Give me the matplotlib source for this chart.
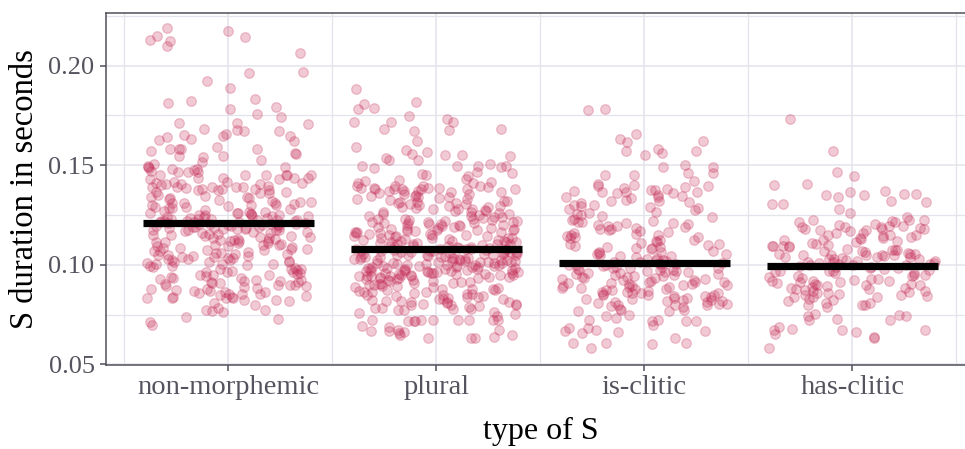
import numpy as np
import matplotlib.pyplot as plt
from matplotlib.ticker import MultipleLocator

# ==========================
# Data: S durations per type (milliseconds)
# ==========================
categories = ["non-morphemic", "plural", "is-clitic", "has-clitic"]

non_morphemic_ms = [
    218.7, 217.3, 214.5, 212.7, 212.5, 206.3, 214.7, 209.8, 196.8, 196.0, 192.0, 188.7,
    183.2, 182.2, 181.0, 179.0, 175.8, 178.2, 174.3, 171.3, 170.7, 171.2, 167.7, 165.7,
    168.2, 167.3, 165.3, 167.0, 164.5, 164.0, 164.8, 163.0, 162.5, 162.0, 159.2, 158.0,
    158.0, 158.2, 156.0, 158.0, 157.0, 154.8, 154.0, 154.8, 155.7, 152.7, 151.8,
    149.5, 148.2, 145.3, 138.2, 140.7, 150.7, 147.3, 144.8, 139.0, 148.2, 146.8, 144.8,
    141.5, 148.5, 149.0, 143.7, 140.7, 139.5, 146.8, 141.2, 144.8, 143.7, 142.8, 142.8,
    139.0, 140.2, 149.0, 147.8, 144.8, 141.5, 144.8, 140.7, 143.7, 146.8, 143.7, 141.2,
    138.2, 137.3,
    137.5, 135.8, 139.2, 136.7, 139.2, 138.3, 136.7, 137.5, 139.0, 137.8, 136.2, 130.8,
    131.7, 133.3, 133.7, 133.0, 132.5, 130.0, 130.4, 132.1, 133.9, 134.6, 130.8, 131.4,
    128.3, 129.2, 127.5, 128.8, 127.9, 130.0, 128.3, 129.6, 135.1, 134.2, 131.1, 129.9,
    126.9, 126.1, 125.7, 125.2, 124.6, 124.1, 123.8, 123.1, 122.9, 122.4, 122.2, 121.6,
    121.3, 120.9, 120.4, 120.1, 119.6, 119.2, 118.9, 118.3, 118.0, 117.6, 117.2, 126.4,
    125.0, 124.3, 123.5, 122.7, 121.9, 121.0, 120.6, 119.8, 119.0, 118.6, 117.9, 117.1,
    126.7, 124.9, 123.3, 121.4, 120.2, 118.4, 125.9, 122.6, 119.4, 117.4, 124.5, 121.8,
    120.7, 118.1, 126.2, 123.0, 119.9, 117.7, 125.4, 122.1, 120.5, 118.8,
    116.6, 116.1, 115.8, 115.3, 114.9, 114.4, 114.0, 113.6, 113.1, 112.8, 112.3, 111.9,
    111.4, 111.0, 110.6, 110.1, 109.7, 109.2, 108.8, 108.3, 107.9, 107.4, 107.1, 106.6,
    106.1, 105.8, 105.3, 104.9, 104.4, 104.0, 103.6, 103.2, 102.7, 102.3, 101.8, 101.4,
    101.0, 100.5, 100.2, 116.3, 115.0, 113.8, 112.5, 111.2, 109.9, 108.5, 107.2, 105.6,
    104.6, 103.0, 101.6, 100.3, 115.6, 113.3, 110.8, 108.1, 105.1, 102.5, 114.6, 111.7,
    109.4, 106.9, 103.9, 101.2, 112.0,
    99.7, 99.2, 98.8, 98.1, 97.7, 97.3, 96.6, 96.2, 95.8, 95.1, 94.7, 94.2, 93.9, 93.3,
    92.8, 92.4, 91.9, 91.5, 90.9, 90.5, 90.0, 89.6, 89.1, 88.7, 88.2, 87.8, 87.3, 86.9,
    86.4, 86.0, 85.5, 85.1, 84.6, 84.2, 83.7, 83.3, 99.4, 97.9, 96.4, 94.9, 93.5, 92.1,
    90.7, 89.3, 87.9, 86.6, 85.3, 84.0, 98.5, 95.5, 92.6, 89.8, 86.2, 97.0, 91.2,
    77.0, 70.0, 72.8, 73.8, 71.3, 76.2, 77.3, 78.3, 77.5, 79.7, 83.3, 83.3, 82.5, 83.3,
    81.7, 80.8, 82.5,
]

plural_ms = [
    188.2, 178.2, 171.5, 171.5, 180.7, 178.7, 181.8, 174.5, 173.2, 168.2, 167.0, 168.3,
    167.7, 171.8, 162.3, 157.7, 152.7, 149.8, 155.3, 149.5, 149.8, 146.0, 155.7, 155.3,
    156.5, 152.8, 149.0, 146.8, 154.8, 150.5, 149.8, 148.5, 159.0, 153.7, 145.7, 144.3,
    145.3, 138.7, 139.3, 141.8, 142.8, 138.5, 139.3, 141.2, 137.8, 138.2, 138.2, 141.5,
    142.3, 141.2, 138.2,
    139.6, 139.1, 138.4, 137.9, 137.2, 136.8, 136.3, 135.6, 135.1, 134.4, 133.9, 133.2,
    132.7, 131.9, 131.6, 130.8, 130.3, 129.6, 129.2, 128.4, 128.0, 127.5, 126.8, 126.3,
    125.6, 125.2, 124.4, 124.0, 123.6, 139.3, 138.1, 136.6, 135.3, 134.1, 132.9, 131.4,
    130.6, 129.4, 128.2, 126.6, 125.4, 124.2, 137.0, 134.6, 132.1, 129.8, 127.0, 124.6,
    138.6, 133.7, 128.9, 125.8, 136.0, 131.0, 127.8,
    123.1, 122.6, 122.0, 121.5, 121.0, 120.4, 119.9, 119.4, 118.8, 118.3, 117.8, 117.2,
    116.7, 116.2, 115.6, 115.1, 114.6, 114.0, 113.5, 113.0, 112.4, 111.9, 111.4, 110.8,
    110.3, 109.8, 109.2, 108.7, 122.9, 121.4, 119.8, 118.2, 116.6, 115.0, 113.4, 111.8,
    110.2, 108.6, 122.2, 120.1, 117.9, 115.7, 113.6, 111.5, 109.4, 121.6, 118.9, 116.1,
    113.3, 110.5, 108.9, 120.5, 117.3, 114.2, 111.0, 119.3, 115.3, 112.1, 109.6, 123.0,
    116.9, 112.9, 122.4, 120.8, 118.5, 116.4, 114.4, 112.6, 110.6, 108.5, 121.2, 117.6,
    114.8, 111.2, 109.1,
    108.1, 107.9, 107.6, 107.3, 107.1, 106.8, 106.5, 106.3, 106.0, 105.7, 105.5, 105.2,
    104.9, 104.7, 104.4, 104.1, 103.9, 103.6, 103.3, 103.1, 102.8, 102.5, 102.3, 102.0,
    101.7, 101.5, 101.2, 100.9, 100.7, 100.4, 100.1, 99.9, 99.6, 99.3, 99.1, 98.8, 98.5,
    98.3, 98.0, 97.7, 97.5, 97.2, 96.9, 96.7, 96.4, 96.1, 95.9, 95.6, 95.3, 95.1, 94.8,
    94.5, 94.3, 94.0, 93.7, 93.5, 108.0, 106.6, 105.1, 103.7, 102.2, 100.8, 99.4, 97.9,
    96.5, 95.0, 93.6, 107.4, 105.9, 104.3, 102.6, 101.0, 99.5, 97.8, 96.2, 94.6, 107.8,
    104.8, 101.9, 98.9, 96.0, 93.9, 106.2, 103.0, 100.0, 97.1, 94.2, 105.4, 101.4, 98.2,
    95.4, 107.0, 102.9, 99.7, 96.8, 104.0, 100.5, 97.4, 94.9, 107.7, 106.9, 105.0, 103.4,
    101.3, 99.0, 97.0, 95.7, 94.4, 93.4,
    93.0, 92.6, 92.1, 91.7, 91.3, 90.8, 90.4, 90.0, 89.5, 89.1, 88.7, 88.2, 87.8, 87.4,
    86.9, 86.5, 86.1, 85.6, 85.2, 84.8, 84.3, 83.9, 83.5, 83.0, 82.6, 82.2, 81.7, 81.3,
    80.9, 80.4, 80.0, 79.6, 79.1, 78.7, 78.3, 77.8, 77.4, 92.4, 90.6, 88.9, 87.1, 85.4,
    83.7, 81.9, 80.2, 78.5, 91.0, 87.6, 84.1, 81.1, 92.8, 91.5, 89.8, 88.0, 86.3, 84.6,
    82.8, 81.5, 79.8, 78.0,
    72.5, 72.5, 72.5, 65.0, 63.8, 75.3, 71.7, 72.5, 67.2, 66.7, 65.8, 72.2, 66.3, 65.0,
    71.7, 63.3, 63.0, 68.8, 74.2, 71.7, 66.7, 69.2, 63.3, 72.5, 67.5, 72.5, 77.5, 76.5,
    76.0,
]

is_clitic_ms = [
    178.2, 177.8, 165.8, 163.3, 161.5, 162.0, 158.2, 156.0, 157.3, 157.3, 155.3, 150.3,
    149.3, 149.3, 144.8, 145.2, 146.0, 146.0, 142.0, 140.3, 140.2, 139.3, 136.5, 136.5,
    137.3,
    139.5, 138.7, 137.0, 136.2, 134.6, 133.8, 132.2, 131.4, 129.8, 129.0, 127.4, 126.6,
    125.0, 124.2, 139.0, 137.4, 135.8, 134.1, 132.6, 131.0, 129.4, 127.8, 126.2, 124.6,
    138.2, 135.0, 131.8, 128.6, 125.4, 136.6, 130.2, 133.4,
    123.1, 122.4, 121.7, 121.0, 120.3, 119.6, 118.9, 118.2, 117.5, 116.8, 116.1, 115.4,
    114.7, 114.0, 113.3, 112.6, 111.9, 111.2, 110.5, 109.8, 109.1, 108.4, 107.7, 107.0,
    106.3, 105.6, 104.9, 104.2, 103.5, 102.8, 102.1, 122.2, 119.4, 116.6, 113.8, 111.0,
    108.2, 105.4, 102.6, 120.8, 121.4, 117.8, 115.0, 112.2, 109.4, 106.6, 103.8, 118.6,
    114.4, 110.2, 106.0, 102.4, 120.0, 108.8, 104.5,
    101.5, 101.2, 100.9, 100.6, 100.3, 100.0, 99.7, 99.4, 99.1, 98.8, 98.5, 98.2, 97.9,
    97.6, 97.3, 97.0, 96.7, 96.4, 96.1, 95.8, 95.5, 95.2, 94.9, 94.6, 94.3, 94.0, 93.7,
    93.4, 93.1, 92.8, 92.5, 92.2, 91.9, 91.6, 91.3, 91.0, 90.7, 90.4, 90.1, 89.8, 89.5,
    89.2, 88.9, 88.6, 88.3, 88.0, 87.7, 87.4, 87.1, 86.8, 86.5, 86.2, 85.9, 85.6, 85.3,
    85.0, 84.7, 84.4, 84.1, 83.8, 83.5, 83.2, 82.9, 82.6, 82.3, 82.0, 81.7, 81.4, 81.1,
    80.8, 80.5, 80.2, 99.9, 95.0, 90.0, 101.0, 97.5, 93.2, 88.4, 84.8, 98.6, 91.4, 86.0,
    96.3, 82.4,
    79.2, 80.0, 74.2, 73.3, 68.3, 68.3, 70.0, 66.7, 71.7, 72.5, 60.8, 65.8, 67.5, 60.8,
    72.2, 71.7, 71.7, 77.5, 63.3, 60.0, 66.3, 58.3, 66.7, 74.7, 77.0, 60.8, 77.5, 77.0,
    78.0, 78.7, 80.0, 80.0,
]

has_clitic_ms = [
    173.2, 157.0, 146.5, 144.3, 140.5, 137.0, 135.7, 135.7,
    140.0, 136.7, 135.0, 135.0, 130.5, 132.2, 134.2, 131.3, 130.5, 128.0, 125.8, 123.8,
    121.7, 121.7, 117.2, 122.2, 120.0, 122.5, 122.5, 122.5, 115.0, 112.8, 118.0, 118.0,
    118.3, 115.0, 115.0, 113.3, 114.2, 113.3, 117.5, 118.8, 115.8, 118.8, 116.7, 118.0,
    118.8, 119.7, 119.7, 112.2, 111.7, 110.5, 109.2, 109.2, 112.2, 111.3, 106.7, 105.0,
    107.5, 104.7, 105.5, 100.0, 104.2, 103.0, 103.8, 103.7, 105.0, 103.8, 104.7, 110.0,
    107.5, 105.3, 108.7, 109.2, 107.5, 100.3, 103.0, 103.3, 105.8, 109.5, 105.5, 105.0,
    102.0, 100.0, 101.5, 102.5, 100.8, 101.0, 99.0, 98.5, 101.8, 99.5, 98.0, 100.6,
    116.0, 111.0, 108.0, 106.2, 102.8, 99.8, 120.6, 113.8, 107.0, 101.2,
    97.5, 94.2, 90.8, 90.0, 86.7, 83.8, 82.5, 80.8, 85.8, 90.5, 90.0, 88.3, 85.0, 84.5,
    91.2, 97.0, 98.3, 87.0, 92.5, 88.3, 83.8, 78.7, 80.0, 79.7, 75.5, 91.3, 91.7, 86.3,
    85.0, 82.0, 89.2, 91.7, 94.5, 79.7, 72.5, 72.5, 75.0, 74.5, 72.8, 74.2, 65.5, 63.3,
    63.8, 58.3, 66.3, 67.2, 67.2, 68.0, 68.7, 67.2, 97.0, 95.8, 96.7, 93.3, 95.0, 92.0,
    89.0, 96.0, 94.0, 86.0, 88.0, 93.0, 81.0, 84.0, 98.8, 96.2, 92.8, 89.6, 87.4, 85.4,
    83.0, 94.8, 90.4, 87.8,
]

# group summary lines (seconds)
group_means = [0.121, 0.108, 0.101, 0.0995]

groups = [non_morphemic_ms, plural_ms, is_clitic_ms, has_clitic_ms]

# ==========================
# Style
# ==========================
plt.rcParams['font.family'] = ['Liberation Serif', 'DejaVu Serif']
grid_col = '#e3e3eb'
axis_col = '#4f4f5a'
text_col = '#54545e'
point_col = '#c42854'

fig = plt.figure(figsize=(9.65, 4.49), dpi=100)
ax = fig.add_axes([105.7 / 965, 84 / 449, 869.3 / 965, 352.3 / 449])

jitter = np.random.default_rng(11)
for i, vals in enumerate(groups):
    y = np.array(vals) / 1000.0
    x = (i + 1) + jitter.uniform(-0.4, 0.4, size=len(y))
    ax.scatter(x, y, s=48, facecolor=point_col, edgecolor=point_col,
               alpha=0.25, linewidths=0.9, zorder=2)

for i, m in enumerate(group_means):
    ax.plot([i + 1 - 0.41, i + 1 + 0.41], [m, m], color='black', lw=5.2,
            solid_capstyle='butt', zorder=3)

ax.set_xlim(0.41, 4.59)
ax.set_ylim(0.0497, 0.2265)

ax.set_xticks(range(1, len(categories) + 1))
ax.set_xticklabels(categories)
ax.xaxis.set_minor_locator(MultipleLocator(0.5))
ax.set_yticks([0.05, 0.10, 0.15, 0.20])
ax.set_yticklabels(['0.05', '0.10', '0.15', '0.20'])
ax.yaxis.set_minor_locator(MultipleLocator(0.025))

ax.set_axisbelow(True)
ax.grid(which='major', color=grid_col, lw=1.1)
ax.grid(which='minor', color=grid_col, lw=0.9)

for side in ['left', 'bottom', 'top', 'right']:
    ax.spines[side].set_color(axis_col)
    ax.spines[side].set_linewidth(1.1)

ax.tick_params(which='major', length=4, width=1.1, color=axis_col,
               labelcolor=text_col, pad=4)
ax.tick_params(axis='x', which='major', labelsize=20.5, pad=3)
ax.tick_params(axis='y', which='major', labelsize=19)
ax.tick_params(which='minor', length=0)

ax.set_xlabel('type of S', fontsize=23, color='black', va='center')
ax.xaxis.set_label_coords(0.5, -0.19)
ax.set_ylabel('S duration in seconds', fontsize=23.5, color='black', va='center')
ax.yaxis.set_label_coords(-0.0928, 0.5)

fig.savefig('out.png', dpi=100)
